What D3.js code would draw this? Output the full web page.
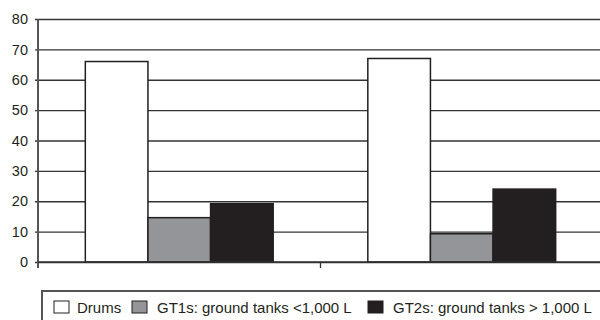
<!DOCTYPE html>
<html>
<head>
<meta charset="utf-8">
<script src="https://cdn.jsdelivr.net/npm/d3@7"></script>
<style>
  body { margin: 0; background: #fff; }
  text { font-family: "Liberation Sans", Arial, sans-serif; fill: #231f20; }
</style>
</head>
<body>
<script>
// chart data
var categories = ["Group 1", "Group 2"];
var seriesNames = ["Drums", "GT1s: ground tanks <1,000 L", "GT2s: ground tanks > 1,000 L"];
var drums = [66, 67];
var gt1s = [14.6, 9.3];
var gt2s = [19.2, 24];
var yTicks = [0, 10, 20, 30, 40, 50, 60, 70, 80];

var colors = ["#ffffff", "#939598", "#231f20"];
var values = [drums, gt1s, gt2s];

var width = 600, height = 320;
var plotLeft = 38, plotRight = 603, plotTop = 19, plotBottom = 262;

var svg = d3.select("body")
    .append("svg")
        .attr("width", width)
        .attr("height", height);

var x = d3.scaleBand()
    .domain(categories)
    .range([plotLeft, plotRight])
    .paddingInner(0.335)
    .paddingOuter(0.1675);

var x1 = d3.scaleBand()
    .domain(seriesNames)
    .range([0, x.bandwidth()]);

var y = d3.scaleLinear()
    .domain([0, 80])
    .range([plotBottom, plotTop]);

// gridlines + left axis
var leftAxis = d3.axisLeft(y)
    .tickValues(yTicks)
    .tickSize(-(plotRight - plotLeft))
    .tickSizeOuter(0)
    .tickPadding(10);

var ga = svg.append("g")
    .attr("class", "left axis")
    .attr("transform", "translate(" + plotLeft + ",0)")
    .call(leftAxis);
ga.select(".domain").remove();
ga.selectAll(".tick line")
    .attr("x1", -3)
    .attr("stroke", "#333")
    .attr("stroke-width", 1.3);
ga.selectAll(".tick text")
    .attr("font-size", "14.5px")
    .style("fill", "#231f20");

// bars
var rows = [];
categories.forEach(function(c, i) {
    seriesNames.forEach(function(s, j) {
        rows.push({cat: c, series: s, value: values[j][i], color: colors[j]});
    });
});

svg.append("g").selectAll("rect")
    .data(rows)
    .enter()
    .append("rect")
        .attr("x", function(d) { return x(d.cat) + x1(d.series); })
        .attr("y", function(d) { return y(d.value); })
        .attr("width", x1.bandwidth())
        .attr("height", function(d) { return y(0) - y(d.value); })
        .attr("fill", function(d) { return d.color; })
        .attr("stroke", "#231f20")
        .attr("stroke-width", 1.5);

// y axis line
svg.append("line")
    .attr("x1", plotLeft).attr("x2", plotLeft)
    .attr("y1", y(80)).attr("y2", plotBottom + 6)
    .attr("stroke", "#555")
    .attr("stroke-width", 2);

// baseline + category boundary ticks
svg.append("line")
    .attr("x1", plotLeft).attr("x2", width)
    .attr("y1", y(0)).attr("y2", y(0))
    .attr("stroke", "#333")
    .attr("stroke-width", 1.5);

svg.append("g").selectAll("line")
    .data(categories.slice(1))
    .enter()
    .append("line")
        .attr("x1", function(d) { return x(d) - x.step() * x.paddingInner() / 2; })
        .attr("x2", function(d) { return x(d) - x.step() * x.paddingInner() / 2; })
        .attr("y1", y(0))
        .attr("y2", y(0) + 6)
        .attr("stroke", "#333")
        .attr("stroke-width", 1.3);

// legend
var legend = svg.append("g");
legend.append("rect")
    .attr("x", 42).attr("y", 291)
    .attr("width", 570).attr("height", 40)
    .attr("fill", "none")
    .attr("stroke", "#555")
    .attr("stroke-width", 2);

var legendX = [54, 132, 368];
seriesNames.forEach(function(s, j) {
    legend.append("rect")
        .attr("x", legendX[j]).attr("y", 301)
        .attr("width", 15).attr("height", 12)
        .attr("fill", colors[j])
        .attr("stroke", "#231f20")
        .attr("stroke-width", 1);
    legend.append("text")
        .attr("x", legendX[j] + (j == 0 ? 23 : 25))
        .attr("y", 312.5)
        .attr("font-size", "15px")
        .text(s);
});
</script>
</body>
</html>
